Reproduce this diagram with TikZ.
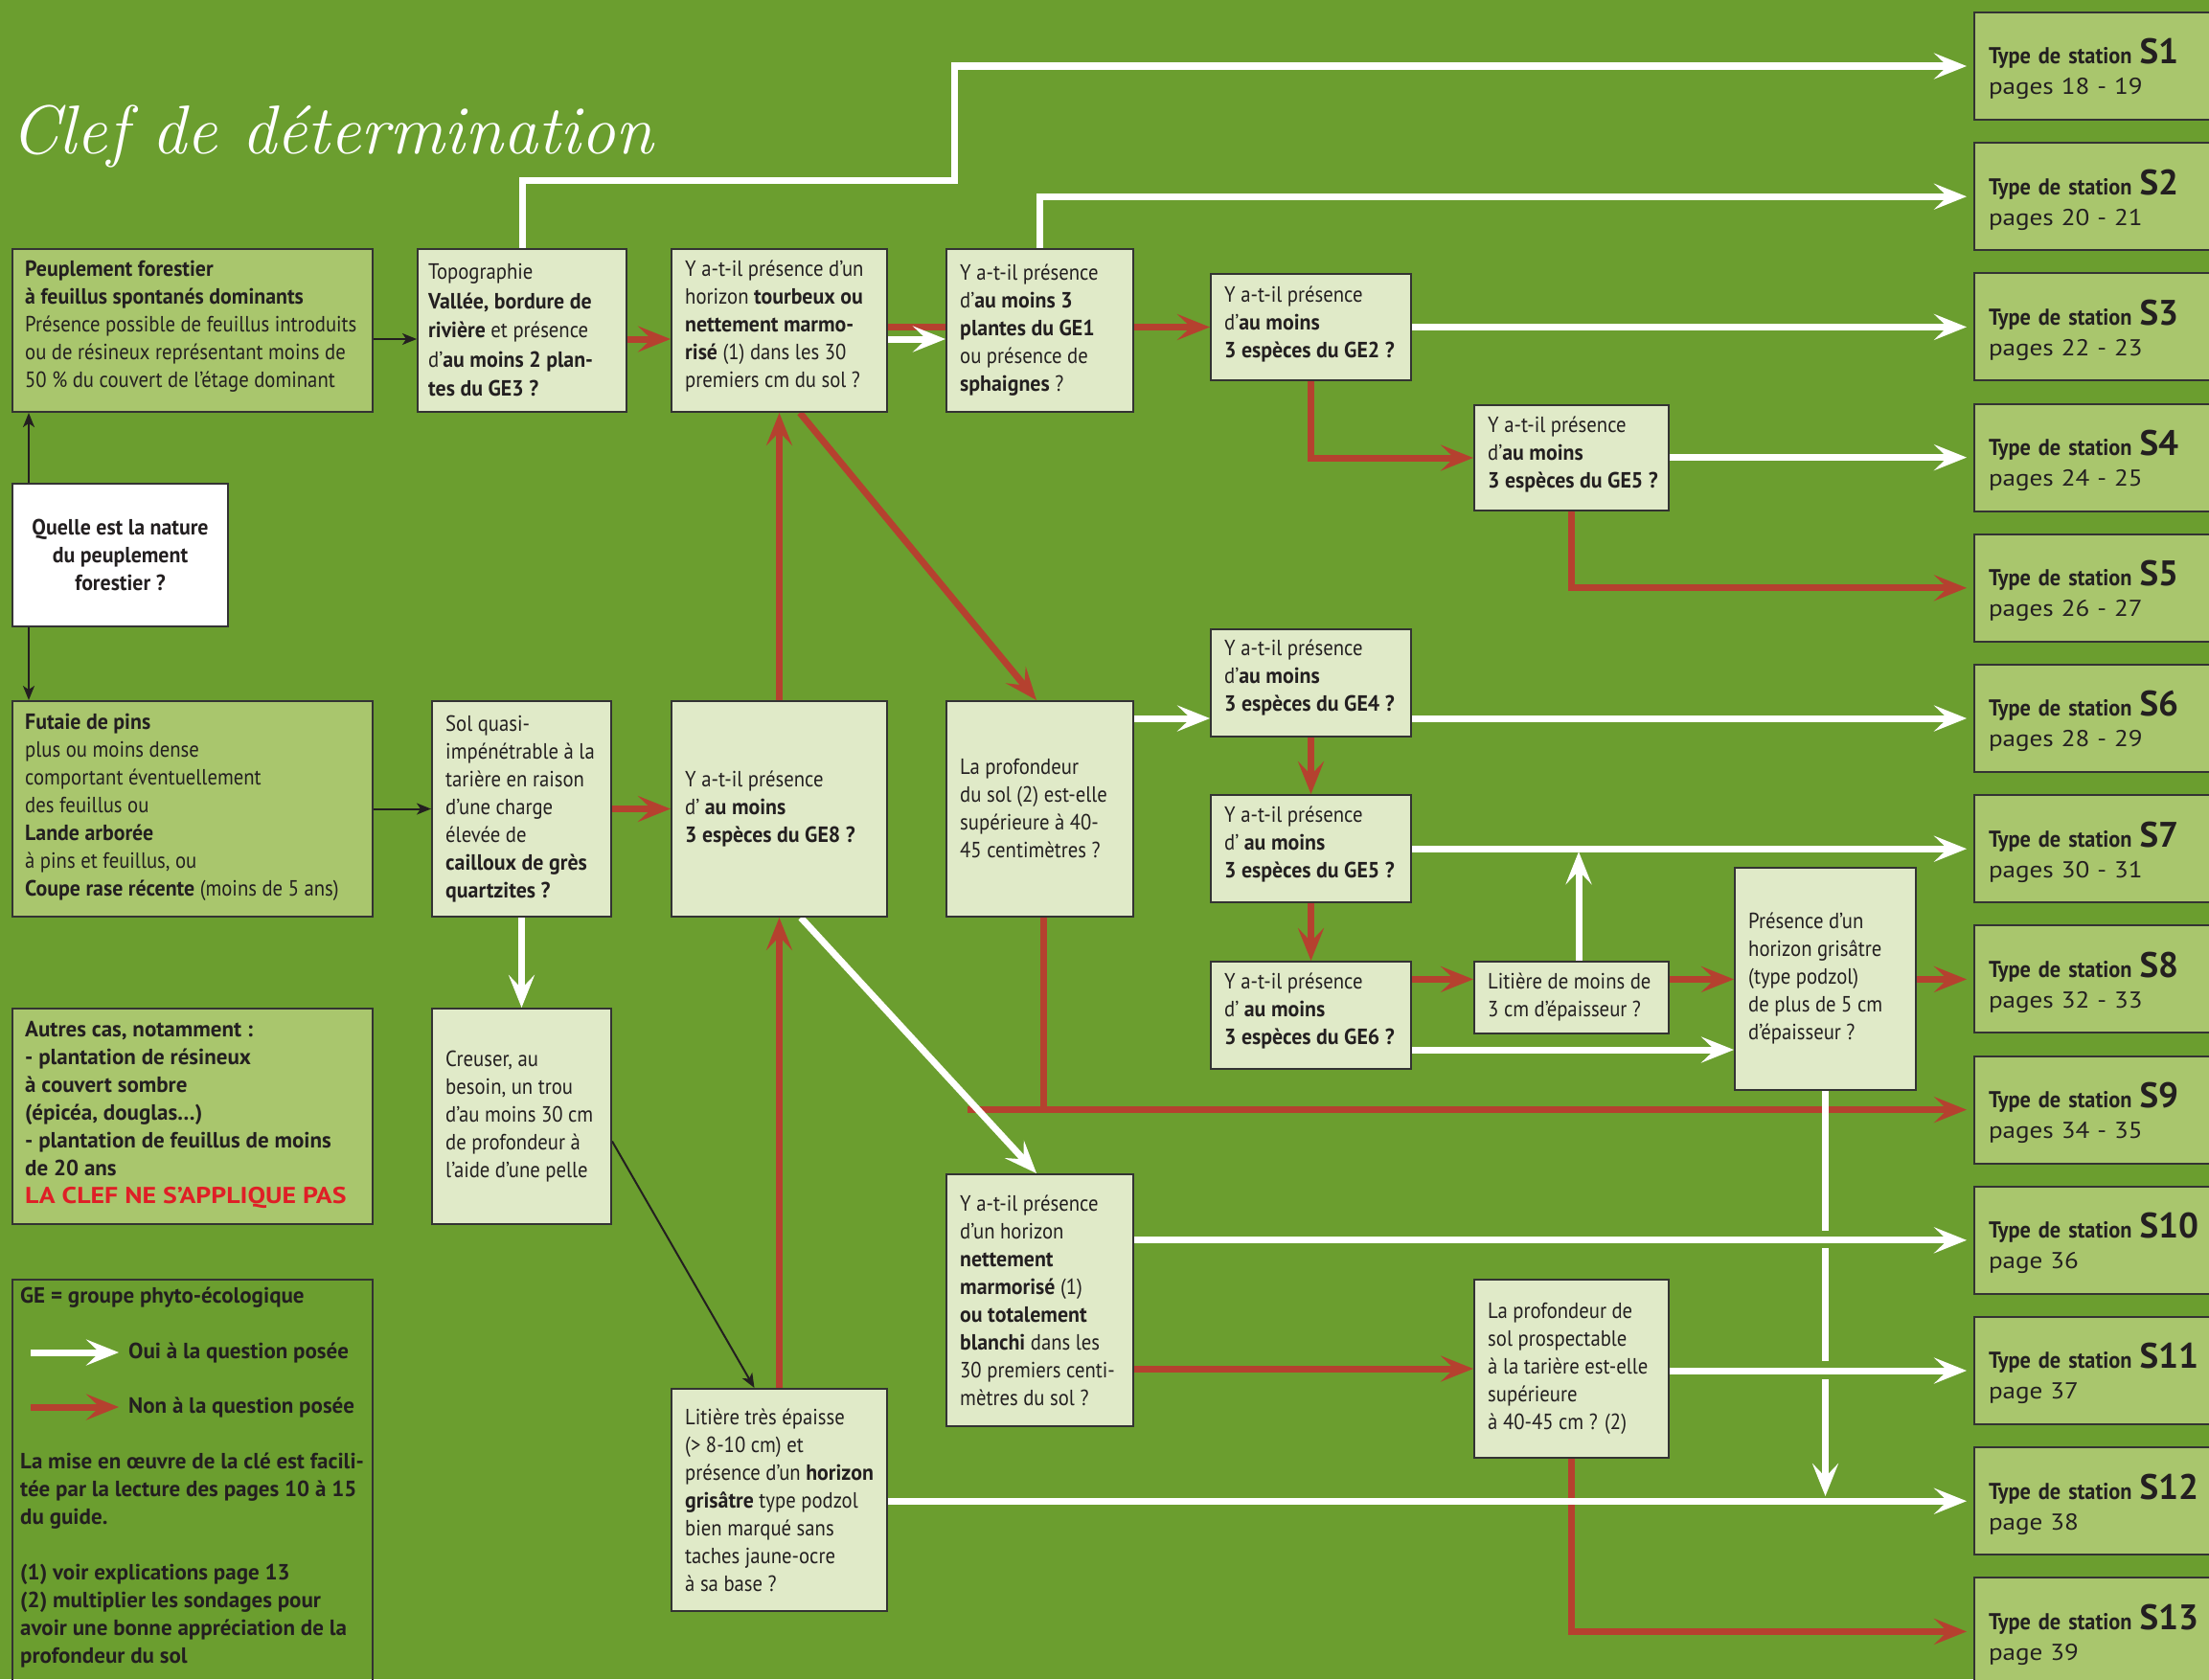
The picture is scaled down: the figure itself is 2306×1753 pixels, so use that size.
\documentclass[tikz,border=0pt]{standalone}
\usepackage{fontspec}
\setmainfont{PT Sans}[FakeStretch=0.9, BoldFeatures={FakeStretch=0.95}]
\newfontfamily\widef{PT Sans}
\newfontfamily\redf{PT Sans}[FakeStretch=1.16]
\newfontfamily\stA{PT Sans}[FakeStretch=0.93]
\newfontfamily\stB{PT Sans}[FakeStretch=1.13]
\usetikzlibrary{arrows.meta}
\definecolor{bggreen}{HTML}{6B9E2F}
\definecolor{dkbox}{HTML}{A9C66D}
\definecolor{ltbox}{HTML}{E0EAC8}
\definecolor{nored}{HTML}{B5412F}
\definecolor{txt}{HTML}{231F20}
\definecolor{bord}{HTML}{333333}
\definecolor{alert}{HTML}{DF1F26}
\pgfdeclarelayer{bgl}
\pgfdeclarelayer{lines}
\pgfsetlayers{bgl,lines,main}
\tikzset{
  bxframe/.style={draw=bord, line width=2pt, anchor=north west, inner sep=0pt},
  dkb/.style={bxframe, fill=dkbox},
  ltb/.style={bxframe, fill=ltbox},
  tx/.style={inner sep=0pt, align=left, text=txt, font=\fontsize{23}{29}\selectfont, anchor=west},
  txb/.style={tx, font=\fontsize{23}{29}\selectfont\bfseries},
  txw/.style={tx, font=\widef\fontsize{23}{29}\selectfont\bfseries},
  station/.style={dkb, minimum width=260pt, minimum height=112pt, text width=230pt, inner xsep=15pt, align=left, text=txt, font=\fontsize{24}{32}\selectfont},
  yesarr/.style={draw=white, line width=7pt, -{Stealth[length=34pt,width=27pt,inset=14pt]}},
  noarr/.style={draw=nored, line width=7pt, -{Stealth[length=34pt,width=27pt,inset=14pt]}},
  noline/.style={draw=nored, line width=7pt},
  yesline/.style={draw=white, line width=7pt},
  blkarr/.style={draw=txt, line width=2pt, -{Stealth[length=15pt,width=12pt,inset=4pt]}},
  tost/.style={shorten >=7pt},
}
\begin{document}
\begin{tikzpicture}[x=1pt,y=-1pt]
\useasboundingbox (0,0) rectangle (2306,1753);
\begin{pgfonlayer}{bgl}
\fill[bggreen] (0,0) rectangle (2306,1753);
\end{pgfonlayer}

\node[anchor=base west, inner sep=0pt, text=white, font=\fontfamily{lmr}\fontsize{72}{72}\selectfont\itshape] (title) at (11,160) {Clef de détermination};

\begin{scope}
\clip (0,0) rectangle (2306,1753);
% left column
\node[dkb, minimum width=376pt, minimum height=170pt] (peup) at (12,259) {};
\node[tx, yshift=4pt] (peupT) at ([xshift=14pt]peup.west) {\textbf{Peuplement forestier}\\\textbf{à feuillus spontanés dominants}\\Présence possible de feuillus introduits\\ou de résineux représentant moins de\\50 \% du couvert de l’étage dominant};

\node[bxframe, fill=white, minimum width=225pt, minimum height=149pt] (quelle) at (12,504) {};
\node[txb, anchor=center, align=center] (quelleT) at (quelle.center) {Quelle est la nature\\du peuplement\\forestier ?};

\node[dkb, minimum width=376pt, minimum height=225pt] (futaie) at (12,731) {};
\node[tx, yshift=2pt] (futaieT) at ([xshift=14pt]futaie.west) {\textbf{Futaie de pins}\\plus ou moins dense\\comportant éventuellement\\des feuillus ou\\\textbf{Lande arborée}\\à pins et feuillus, ou\\\textbf{Coupe rase récente} (moins de 5 ans)};

\node[dkb, minimum width=376pt, minimum height=225pt] (autres) at (12,1052) {};
\node[txw, yshift=2pt] (autresT) at ([xshift=14pt]autres.west) {Autres cas, notamment :\\- plantation de résineux\\à couvert sombre\\(épicéa, douglas…)\\- plantation de feuillus de moins\\de 20 ans\\{\redf\fontsize{24}{29}\selectfont\bfseries\color{alert}LA CLEF NE S’APPLIQUE PAS}};

\node[bxframe, minimum width=376pt, minimum height=425pt] (leg) at (12,1335) {};
\node[txw] (legGE) at (21,1355) {GE = groupe phyto-écologique};
\node[txw] (legOui) at (134,1412) {Oui à la question posée};
\node[txw] (legNon) at (134,1469) {Non à la question posée};
\node[txw, anchor=north west] (legP) at (21,1517) {La mise en œuvre de la clé est facili-\\tée par la lecture des pages 10 à 15\\du guide.\\[29pt](1) voir explications page 13\\(2) multiplier les sondages pour\\avoir une bonne appréciation de la\\profondeur du sol};

% second column
\node[ltb, minimum width=218pt, minimum height=170pt] (topo) at (435,259) {};
\node[tx, font=\fontsize{23}{30.5}\selectfont] (topoT) at ([xshift=12pt]topo.west) {Topographie\\\textbf{Vallée, bordure de}\\\textbf{rivière} et présence\\d’\textbf{au moins 2 plan-}\\\textbf{tes du GE3 ?}};

\node[ltb, minimum width=187pt, minimum height=225pt] (solq) at (450,731) {};
\node[tx] (solqT) at ([xshift=15pt]solq.west) {Sol quasi-\\impénétrable à la\\tarière en raison\\d’une charge\\élevée de\\\textbf{cailloux de grès}\\\textbf{quartzites ?}};

\node[ltb, minimum width=187pt, minimum height=225pt] (creuser) at (450,1052) {};
\node[tx] (creuserT) at ([xshift=15pt]creuser.west) {Creuser, au\\besoin, un trou\\d’au moins 30 cm\\de profondeur à\\l’aide d’une pelle};

% third column
\node[ltb, minimum width=225pt, minimum height=170pt] (tourb) at (700,259) {};
\node[tx, yshift=4pt] (tourbT) at ([xshift=15pt]tourb.west) {Y a-t-il présence d’un\\horizon \textbf{tourbeux ou}\\\textbf{nettement marmo-}\\\textbf{risé} (1) dans les 30\\premiers cm du sol ?};

\node[ltb, minimum width=225pt, minimum height=225pt] (ge8) at (700,731) {};
\node[tx] (ge8T) at ([xshift=15pt]ge8.west) {Y a-t-il présence\\d’ \textbf{au moins}\\\textbf{3 espèces du GE8 ?}};

\node[ltb, minimum width=225pt, minimum height=232pt] (litep) at (700,1449) {};
\node[tx] (litepT) at ([xshift=15pt]litep.west) {Litière très épaisse\\(> 8-10 cm) et\\présence d’un \textbf{horizon}\\\textbf{grisâtre} type podzol\\bien marqué sans\\taches jaune-ocre\\à sa base ?};

% fourth column
\node[ltb, minimum width=195pt, minimum height=170pt] (ge1) at (987,259) {};
\node[tx] (ge1T) at ([xshift=15pt]ge1.west) {Y a-t-il présence\\d’\textbf{au moins 3}\\\textbf{plantes du GE1}\\ou présence de\\\textbf{sphaignes} ?};

\node[ltb, minimum width=195pt, minimum height=225pt] (prof) at (987,731) {};
\node[tx] (profT) at ([xshift=15pt]prof.west) {La profondeur\\du sol (2) est-elle\\supérieure à 40-\\45 centimètres ?};

\node[ltb, minimum width=195pt, minimum height=263pt] (nett) at (987,1225) {};
\node[tx] (nettT) at ([xshift=15pt]nett.west) {Y a-t-il présence\\d’un horizon\\\textbf{nettement}\\\textbf{marmorisé} (1)\\\textbf{ou totalement}\\\textbf{blanchi} dans les\\30 premiers centi-\\mètres du sol ?};

% fifth column
\node[ltb, minimum width=209pt, minimum height=111pt] (ge2) at (1263,285) {};
\node[tx, yshift=3pt] (ge2T) at ([xshift=15pt]ge2.west) {Y a-t-il présence\\d’\textbf{au moins}\\\textbf{3 espèces du GE2 ?}};

\node[ltb, minimum width=209pt, minimum height=112pt] (ge4) at (1263,656) {};
\node[tx, yshift=5pt] (ge4T) at ([xshift=15pt]ge4.west) {Y a-t-il présence\\d’\textbf{au moins}\\\textbf{3 espèces du GE4 ?}};

\node[ltb, minimum width=209pt, minimum height=112pt] (ge5b) at (1263,829) {};
\node[tx, yshift=4pt] (ge5bT) at ([xshift=15pt]ge5b.west) {Y a-t-il présence\\d’ \textbf{au moins}\\\textbf{3 espèces du GE5 ?}};

\node[ltb, minimum width=209pt, minimum height=112pt] (ge6) at (1263,1003) {};
\node[tx, yshift=4pt] (ge6T) at ([xshift=15pt]ge6.west) {Y a-t-il présence\\d’ \textbf{au moins}\\\textbf{3 espèces du GE6 ?}};

% sixth column
\node[ltb, minimum width=203pt, minimum height=110pt] (ge5a) at (1538,422) {};
\node[tx, yshift=3pt] (ge5aT) at ([xshift=15pt]ge5a.west) {Y a-t-il présence\\d’\textbf{au moins}\\\textbf{3 espèces du GE5 ?}};

\node[ltb, minimum width=203pt, minimum height=75pt] (lit3) at (1538,1003) {};
\node[tx] (lit3T) at ([xshift=15pt]lit3.west) {Litière de moins de\\3 cm d’épaisseur ?};

\node[ltb, minimum width=203pt, minimum height=186pt] (solp) at (1538,1335) {};
\node[tx] (solpT) at ([xshift=15pt]solp.west) {La profondeur de\\sol prospectable\\à la tarière est-elle\\supérieure\\à 40-45 cm ? (2)};

\node[ltb, minimum width=189pt, minimum height=232pt] (gris) at (1810,905) {};
\node[tx] (grisT) at ([xshift=15pt]gris.west) {Présence d’un\\horizon grisâtre\\(type podzol)\\de plus de 5 cm\\d’épaisseur ?};

% stations
\foreach \k/\p in {1/pages 18 - 19,2/pages 20 - 21,3/pages 22 - 23,4/pages 24 - 25,5/pages 26 - 27,6/pages 28 - 29,7/pages 30 - 31,8/pages 32 - 33,9/pages 34 - 35,10/page 36,11/page 37,12/page 38,13/page 39}{
  \node[station] (S\k) at (2060,{12+136.2*(\k-1)}) {\rule{0pt}{33pt}{\stA\bfseries Type de station} {\widef\fontsize{37}{37}\selectfont\bfseries S\k}\\{\stB\p}};
}
\end{scope}

% legend arrows
\coordinate (la1) at (32,1412);
\coordinate (la2) at (124,1412);
\coordinate (lb1) at (32,1469);
\coordinate (lb2) at (124,1469);
\draw[yesarr] (la1) -- (la2);
\draw[noarr] (lb1) -- (lb2);

\begin{pgfonlayer}{lines}
\coordinate (yA) at (0,354);
\coordinate (k1) at (996,188);
\coordinate (xq) at (30,0);
\coordinate (yW) at (0,1096);
\coordinate (r9) at (1010,0);
\coordinate (g1) at (0,1285);
\coordinate (g2) at (0,1303);
\coordinate (g3) at (0,1421);
\coordinate (g4) at (0,1440);
\coordinate (g5) at (0,1562);
\coordinate (tds) at ([xshift=21.5pt]tourb.south);
\coordinate (pfn) at ([xshift=-3.5pt]prof.north);
\coordinate (g8s) at ([xshift=22.5pt]ge8.south);
\coordinate (ntn) at ([xshift=-3.5pt]nett.north);
\coordinate (pfs) at ([xshift=3.5pt]prof.south);
\coordinate (l3t) at ([xshift=7.5pt]lit3.north);
\coordinate (cr1) at ([yshift=-26pt]creuser.east);
\coordinate (lp1) at ([xshift=-26pt]litep.north);

% black
\draw[blkarr] (peup.east |- yA) -- (topo.west |- yA);
\draw[blkarr] (xq |- quelle.north) -- (xq |- peup.south);
\draw[blkarr] (xq |- quelle.south) -- (xq |- futaie.north);
\draw[blkarr] (futaie.east) -- (solq.west);
\draw[blkarr] (cr1) -- (lp1);

% red (no)
\draw[noarr] (topo.east |- yA) -- (tourb.west |- yA);
\draw[noarr] (tourb.east |- ge2.west) -- (ge2.west);
\draw[noarr] (ge2.south) |- (ge5a.west);
\draw[noarr, tost] (ge5a.south) |- (S5.west);
\draw[noarr] (solq.east) -- (ge8.west);
\draw[noarr] (litep.north) -- (ge8.south);
\draw[noarr] (ge8.north) -- (tourb.south);
\draw[noarr] (tds) -- (pfn);
\draw[noline] (pfs) -- (pfs |- S9.west);
\draw[noarr, tost] (r9 |- S9.west) -- (S9.west);
\draw[noarr] (ge4.south) -- (ge5b.north);
\draw[noarr] (ge5b.south) -- (ge6.north);
\draw[noarr] (ge6.east |- S8.west) -- (lit3.west |- S8.west);
\draw[noarr] (lit3.east |- S8.west) -- (gris.west |- S8.west);
\draw[noarr, tost] (gris.east |- S8.west) -- (S8.west);
\draw[noarr] (nett.east |- solp.west) -- (solp.west);
\draw[noarr, tost] (solp.south) |- (S13.west);

% white (yes)
\draw[yesarr, tost] (topo.north) |- (k1) |- (S1.west);
\draw[yesarr] (tourb.east |- yA) -- (ge1.west |- yA);
\draw[yesarr, tost] (ge1.north) |- (S2.west);
\draw[yesarr, tost] (ge2.east |- S3.west) -- (S3.west);
\draw[yesarr, tost] (ge5a.east |- S4.west) -- (S4.west);
\draw[yesarr] (solq.south) -- (creuser.north);
\draw[yesarr] (g8s) -- (ntn);
\draw[yesarr] (prof.east |- S6.west) -- (ge4.west |- S6.west);
\draw[yesarr, tost] (ge4.east |- S6.west) -- (S6.west);
\draw[yesarr, tost] (ge5b.east |- S7.west) -- (S7.west);
\draw[yesarr, shorten >=3pt] (l3t) -- (l3t |- S7.west);
\draw[yesarr] (ge6.east |- yW) -- (gris.west |- yW);
\draw[yesarr, tost] (nett.east |- S10.west) -- (S10.west);
\draw[yesarr, tost] (solp.east |- S11.west) -- (S11.west);
\draw[yesarr, tost] (litep.east |- S12.west) -- (S12.west);
\draw[yesline] (gris.south) -- (gris.south |- g1);
\draw[yesline] (gris.south |- g2) -- (gris.south |- g3);
\draw[yesarr] (gris.south |- g4) -- (gris.south |- g5);
\end{pgfonlayer}
\end{tikzpicture}
\end{document}
